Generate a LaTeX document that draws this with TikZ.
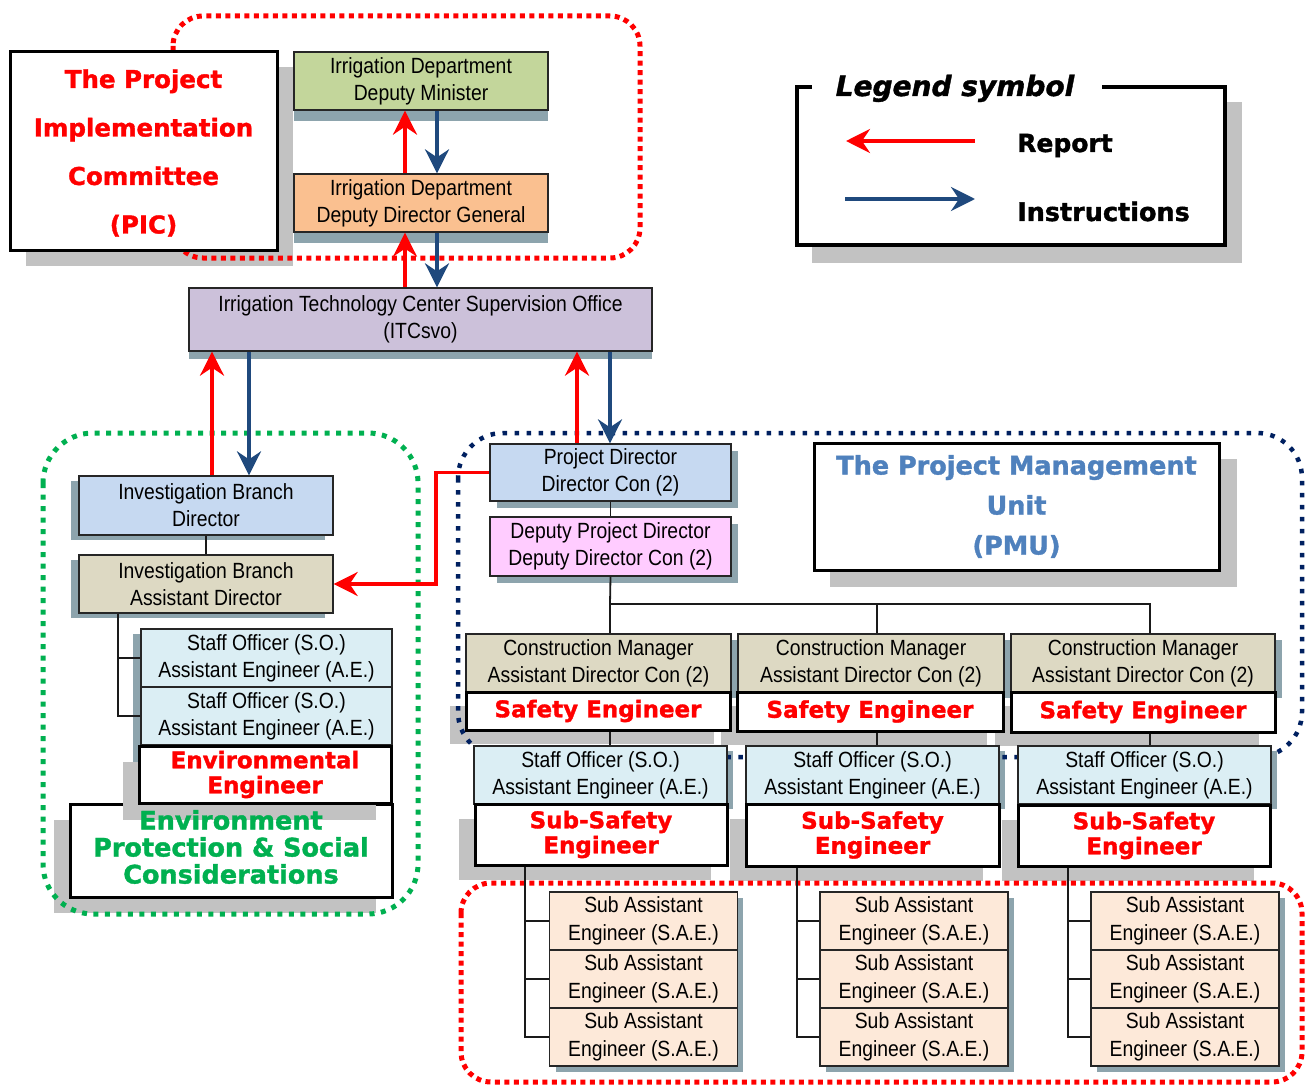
\documentclass[tikz,border=0pt]{standalone}
\usepackage{fontspec}
\setmainfont{Liberation Sans}[FakeStretch=0.88]
\newfontfamily\heavy{DejaVu Sans}[BoldFeatures={FakeBold=1.4}, BoldItalicFeatures={FakeBold=1.4}]
\usetikzlibrary{arrows.meta}

\definecolor{greenbox}{HTML}{C3D69B}
\definecolor{orangebox}{HTML}{FAC090}
\definecolor{itcbox}{HTML}{CCC1DA}
\definecolor{bluebox}{HTML}{C6D9F1}
\definecolor{beigebox}{HTML}{DDD9C3}
\definecolor{pinkbox}{HTML}{FFCCFF}
\definecolor{cyanbox}{HTML}{DBEEF4}
\definecolor{peachbox}{HTML}{FDE9D9}
\definecolor{boxedge}{HTML}{262626}
\definecolor{linegray}{HTML}{1A1A1A}
\definecolor{shadowgray}{HTML}{C2C2C2}
\definecolor{shadowblue}{HTML}{8DA4AD}
\definecolor{arrowblue}{HTML}{1F497D}
\definecolor{dotgreen}{HTML}{00B050}
\definecolor{dotnavy}{HTML}{002060}
\definecolor{pmublue}{HTML}{4F81BD}
\definecolor{redc}{HTML}{FF0000}

\begin{document}
\begin{tikzpicture}[x=1pt,y=-1pt,
  cbox/.style={draw=boxedge, line width=1.3pt, inner sep=0pt, align=center,
    font=\fontsize{22}{27}\selectfont},
  saebox/.style={cbox, fill=peachbox, minimum width=188pt, minimum height=58pt,
    font=\fontsize{22}{28}\selectfont},
  wbox/.style={draw=black, line width=3pt, fill=white, inner sep=0pt, align=center},
  redtxt/.style={text=redc, font=\heavy\bfseries\fontsize{23}{25}\selectfont},
  shg/.style={fill=shadowgray},
  shb/.style={fill=shadowblue},
  conn/.style={draw=linegray, line width=1.8pt},
  tipshape/.style={-{Stealth[length=24pt,width=24pt,inset=8pt]}},
  rep/.style={draw=redc, line width=3.5pt, tipshape},
  ins/.style={draw=arrowblue, line width=3.5pt, tipshape},
  reddots/.style={draw=redc, line width=5pt, dash pattern=on 5pt off 4.5pt},
  greendots/.style={draw=dotgreen, line width=5pt, dash pattern=on 5pt off 6.5pt},
  navydots/.style={draw=dotnavy, line width=4.5pt, dash pattern=on 4.5pt off 7.5pt}
]
\useasboundingbox (0,0) rectangle (1309,1086);

% ---------- shadows ----------
\fill[shg] (26,67) rectangle (293,266);      % PIC
\fill[shg] (812,102) rectangle (1242,263);   % legend
\fill[shg] (830,459) rectangle (1237,587);   % PMU
\fill[shg] (54,820) rectangle (376,913);     % environment protection
\fill[shg] (450,706) rectangle (714,744);    % safety engineers
\fill[shg] (721,706) rectangle (987,745);
\fill[shg] (995,706) rectangle (1259,746);
\fill[shg] (459,819) rectangle (711,880);    % sub-safety engineers
\fill[shg] (730,819) rectangle (983,881);
\fill[shg] (1002,820) rectangle (1254,881);

\fill[shb] (294,63) rectangle (548,121);     % ministry boxes
\fill[shb] (294,185) rectangle (548,243);
\fill[shb] (189,296) rectangle (652,359);    % ITCsvo
\fill[shb] (497,451) rectangle (738,508);    % project director
\fill[shb] (497,524) rectangle (738,583);    % deputy project director
\fill[shb] (71,481) rectangle (325,540);     % investigation branch
\fill[shb] (71,560) rectangle (325,618);
\fill[shb] (133,634) rectangle (384,779);    % staff officers (left)
\fill[shb] (473,640) rectangle (738,698);    % construction managers
\fill[shb] (745,640) rectangle (1011,698);
\fill[shb] (1018,640) rectangle (1282,698);
\fill[shb] (480,751) rectangle (733,809);    % staff officers (right)
\fill[shb] (752,751) rectangle (1005,809);
\fill[shb] (1024,751) rectangle (1277,809);
\fill[shb] (556,898) rectangle (743,1072);   % sub assistant engineers
\fill[shb] (826,898) rectangle (1014,1072);
\fill[shb] (1097,898) rectangle (1285,1072);

% ---------- group outlines ----------
\draw[reddots, rounded corners=30pt] (173,16) rectangle (640,258);
\draw[greendots, rounded corners=50pt] (43,433) rectangle (418,914);
\draw[navydots, rounded corners=45pt] (458,433) rectangle (1302,757);
\draw[reddots, rounded corners=30pt] (461,883) rectangle (1302,1082);

% ---------- PIC ----------
\node[wbox, minimum width=267pt, minimum height=198pt] (pic) at (143.5,151) {};
\node[align=center, inner sep=0pt, text=redc,
  font=\heavy\bfseries\fontsize{24.5}{48.5}\selectfont] (pictext) at (143.5,153)
  {The Project\\Implementation\\Committee\\(PIC)};

% ---------- ministry and ITCsvo ----------
\node[cbox, fill=greenbox, minimum width=254pt, minimum height=58pt] (iddm) at (421,81)
  {Irrigation Department\\Deputy Minister};
\node[cbox, fill=orangebox, minimum width=254pt, minimum height=58pt] (idddg) at (421,203)
  {Irrigation Department\\Deputy Director General};
\node[cbox, fill=itcbox, minimum width=463pt, minimum height=63pt] (itc) at (420.5,319.5)
  {Irrigation Technology Center Supervision Office\\(ITCsvo)};

% ---------- legend ----------
\fill[white] (797,87) rectangle (1225,245);
\draw[black, line width=3.5pt] (1102,87) -- (1225,87) -- (1225,245) -- (797,245) -- (797,87) -- (812,87);
\node[anchor=base, inner sep=0pt, font=\heavy\bfseries\itshape\fontsize{28}{30}\selectfont]
  (legtitle) at (955,96) {Legend symbol};
\node[anchor=base west, inner sep=0pt, font=\heavy\bfseries\fontsize{25}{27}\selectfont]
  (legrep) at (1017,152) {Report};
\node[anchor=base west, inner sep=0pt, font=\heavy\bfseries\fontsize{25.5}{27}\selectfont]
  (legins) at (1017,221) {Instructions};
\coordinate (lr1) at (975,141);
\coordinate (lr2) at (846,141);
\coordinate (li1) at (845,199);
\coordinate (li2) at (975,199);
\draw[rep] (lr1) -- (lr2);
\draw[ins] (li1) -- (li2);

% ---------- investigation branch ----------
\node[cbox, fill=bluebox, minimum width=254pt, minimum height=59pt] (ibd) at (206,505.5)
  {Investigation Branch\\Director};
\node[cbox, fill=beigebox, minimum width=254pt, minimum height=58pt] (ibad) at (206,584)
  {Investigation Branch\\Assistant Director};
\node[cbox, fill=cyanbox, minimum width=251pt, minimum height=58pt] (sol1) at (266.5,658)
  {Staff Officer (S.O.)\\Assistant Engineer (A.E.)};
\node[cbox, fill=cyanbox, minimum width=251pt, minimum height=58pt] (sol2) at (266.5,716)
  {Staff Officer (S.O.)\\Assistant Engineer (A.E.)};
\node[wbox, minimum width=322pt, minimum height=93pt] (epsc) at (231,850.5) {};
\fill[shg] (123,762) rectangle (376,820);
\node[wbox, minimum width=252pt, minimum height=57pt, redtxt] (enve) at (265,774.5)
  {Environmental\\Engineer};
\node[align=center, inner sep=0pt, text=dotgreen,
  font=\heavy\bfseries\fontsize{25.5}{27}\selectfont] (epsctext) at (231,847)
  {Environment\\Protection \& Social\\Considerations};

% ---------- project management unit ----------
\node[cbox, fill=bluebox, minimum width=241pt, minimum height=57pt] (pd) at (610.5,472.5)
  {Project Director\\Director Con (2)};
\node[cbox, fill=pinkbox, minimum width=241pt, minimum height=59pt] (dpd) at (610.5,546.5)
  {Deputy Project Director\\Deputy Director Con (2)};
\node[wbox, minimum width=405pt, minimum height=127pt, text=pmublue,
  font=\heavy\bfseries\fontsize{25.5}{40}\selectfont] (pmu) at (1016.5,506.5)
  {The Project Management\\Unit\\(PMU)};

\node[cbox, fill=beigebox, minimum width=265pt, minimum height=58pt] (cm1) at (598.5,663)
  {Construction Manager\\Assistant Director Con (2)};
\node[cbox, fill=beigebox, minimum width=266pt, minimum height=58pt] (cm2) at (871,663)
  {Construction Manager\\Assistant Director Con (2)};
\node[cbox, fill=beigebox, minimum width=264pt, minimum height=58pt] (cm3) at (1143,663)
  {Construction Manager\\Assistant Director Con (2)};

\node[wbox, minimum width=264pt, minimum height=38pt, redtxt] (se1) at (598,711) {Safety Engineer};
\node[wbox, minimum width=266pt, minimum height=39pt, redtxt] (se2) at (870,711.5) {Safety Engineer};
\node[wbox, minimum width=264pt, minimum height=40pt, redtxt] (se3) at (1143,712) {Safety Engineer};

\node[cbox, fill=cyanbox, minimum width=253pt, minimum height=58pt] (so1) at (600.5,775)
  {Staff Officer (S.O.)\\Assistant Engineer (A.E.)};
\node[cbox, fill=cyanbox, minimum width=253pt, minimum height=58pt] (so2) at (872.5,775)
  {Staff Officer (S.O.)\\Assistant Engineer (A.E.)};
\node[cbox, fill=cyanbox, minimum width=253pt, minimum height=58pt] (so3) at (1144.5,775)
  {Staff Officer (S.O.)\\Assistant Engineer (A.E.)};

\node[wbox, minimum width=252pt, minimum height=61pt, redtxt] (ss1) at (601,834.5) {Sub-Safety\\Engineer};
\node[wbox, minimum width=253pt, minimum height=62pt, redtxt] (ss2) at (872.5,835) {Sub-Safety\\Engineer};
\node[wbox, minimum width=252pt, minimum height=61pt, redtxt] (ss3) at (1144,835.5) {Sub-Safety\\Engineer};

\foreach \c/\x in {1/643.5, 2/914, 3/1185} {
  \node[saebox] (sae\c1) at (\x,921) {Sub Assistant\\Engineer (S.A.E.)};
  \node[saebox] (sae\c2) at (\x,979) {Sub Assistant\\Engineer (S.A.E.)};
  \node[saebox] (sae\c3) at (\x,1037) {Sub Assistant\\Engineer (S.A.E.)};
}

% ---------- connectors ----------
\draw[conn] (ibd.south) -- (ibad.north);
\coordinate (ibx) at (118,0);
\draw[conn] (ibad.south -| ibx) |- (sol2.west);
\draw[conn] (ibad.south -| ibx) |- (sol1.west);

\draw[conn] (pd.south) -- (dpd.north);
\coordinate (b1) at (610,604);
\coordinate (b2) at (877,604);
\coordinate (b3) at (1150,604);
\draw[conn] (dpd.south) -- (b1) -- (b3) -- (b3 |- cm3.north);
\draw[conn] (b1) -- (b1 |- cm1.north);
\draw[conn] (b2) -- (b2 |- cm2.north);
\draw[conn] (se1.south -| b1) -- (so1.north -| b1);
\draw[conn] (se2.south -| b2) -- (so2.north -| b2);
\draw[conn] (se3.south -| b3) -- (so3.north -| b3);

\coordinate (v1) at (525,0);
\coordinate (v2) at (797,0);
\coordinate (v3) at (1068,0);
\draw[conn] (ss1.south -| v1) |- (sae13.west);
\draw[conn] (ss1.south -| v1) |- (sae11.west);
\draw[conn] (ss1.south -| v1) |- (sae12.west);
\draw[conn] (ss2.south -| v2) |- (sae23.west);
\draw[conn] (ss2.south -| v2) |- (sae21.west);
\draw[conn] (ss2.south -| v2) |- (sae22.west);
\draw[conn] (ss3.south -| v3) |- (sae33.west);
\draw[conn] (ss3.south -| v3) |- (sae31.west);
\draw[conn] (ss3.south -| v3) |- (sae32.west);

% ---------- reports (red) and instructions (blue) ----------
\coordinate (ra) at (405,0);
\coordinate (ia) at (437,0);
\draw[rep] (idddg.north -| ra) -- (iddm.south -| ra);
\draw[ins] (iddm.south -| ia) -- (idddg.north -| ia);
\draw[rep] (itc.north -| ra) -- (idddg.south -| ra);
\draw[ins] (idddg.south -| ia) -- (itc.north -| ia);

\coordinate (rb) at (212,0);
\coordinate (ib) at (249,0);
\draw[rep] (ibd.north -| rb) -- (itc.south -| rb);
\draw[ins] (itc.south -| ib) -- (ibd.north -| ib);

\coordinate (rc) at (577,0);
\coordinate (ic) at (610,0);
\draw[rep] (pd.north -| rc) -- (itc.south -| rc);
\draw[ins] (itc.south -| ic) -- (pd.north -| ic);

\coordinate (jx) at (436,0);
\draw[rep] (pd.west) -- (pd.west -| jx) -- (ibad.east -| jx) -- (ibad.east);

\end{tikzpicture}
\end{document}
